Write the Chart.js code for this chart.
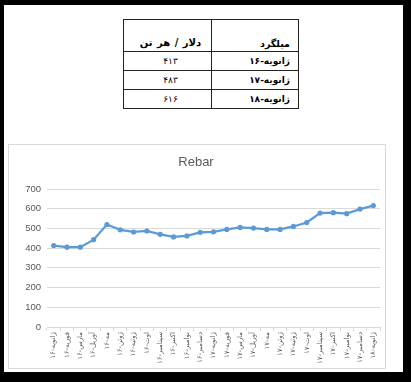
<!DOCTYPE html>
<html>
<head>
<meta charset="utf-8">
<script src="https://cdn.jsdelivr.net/npm/chart.js@4.4.1/dist/chart.umd.min.js"></script>
<style>
  html, body { margin: 0; padding: 0; background: #000; }
  body { width: 411px; height: 382px; position: relative; overflow: hidden; }
  #page { position: absolute; left: 4px; top: 5px; width: 399px; height: 367px; background: #fff; }
  #tbl { position: absolute; left: 119px; top: 14px; border-collapse: collapse; direction: rtl;
         font-family: "DejaVu Sans", sans-serif; color: #000; table-layout: fixed; width: 175px; }
  #tbl td { border: 1px solid #222; padding: 0; width: 87px; box-sizing: border-box; line-height: 1; }
  #tbl tr.h td { height: 32px; vertical-align: bottom; font-weight: bold; font-size: 9.5px; padding-bottom: 3px; }
  #tbl tr.d td { height: 19px; vertical-align: middle; font-size: 9px; }
  #tbl td.c1 { text-align: right; padding-right: 8px; }
  #tbl td.c2 { text-align: center; padding-left: 6px; }
  #tbl tr.h td.c2 { font-size: 10px; word-spacing: 1px; }
  #tbl tr.d td.c1 { font-weight: bold; }
  #frame { position: absolute; left: 4px; top: 139px; width: 376px; height: 223px; border: 1px solid #d9d9d9; background: #fff; }
  #wrap { position: absolute; left: 0; top: 0; width: 375px; height: 222px; }
</style>
</head>
<body>
<div id="page">
  <table id="tbl"><colgroup><col style="width:87px"><col style="width:88px"></colgroup><tbody id="tb"></tbody></table>
  <div id="frame"><div id="wrap"><canvas id="c"></canvas></div></div>
</div>
<script>
// ---- data ----
const tableHeaders = ['میلگرد', 'دلار / هر تن'];
const tableMonths = ['ژانویه-۱۶', 'ژانویه-۱۷', 'ژانویه-۱۸'];
const tablePrices = ['۴۱۳', '۴۸۳', '۶۱۶'];

const categories = [
  'ژانویه-۱۶','فوریه-۱۶','مارس-۱۶','آوریل-۱۶','مه-۱۶','ژوئن-۱۶','ژوئیه-۱۶','اوت-۱۶',
  'سپتامبر-۱۶','اکتبر-۱۶','نوامبر-۱۶','دسامبر-۱۶',
  'ژانویه-۱۷','فوریه-۱۷','مارس-۱۷','آوریل-۱۷','مه-۱۷','ژوئن-۱۷','ژوئیه-۱۷','اوت-۱۷',
  'سپتامبر-۱۷','اکتبر-۱۷','نوامبر-۱۷','دسامبر-۱۷','ژانویه-۱۸'
];
const rebarPrices = [413, 405, 405, 443, 520, 493, 482, 487, 470, 457, 462, 480,
                     483, 495, 505, 502, 495, 495, 510, 530, 578, 580, 575, 598, 616];
const chartTitle = 'Rebar';
const yMin = 0, yMax = 700, yStep = 100;

// ---- table ----
const tb = document.getElementById('tb');
let html = '<tr class="h"><td class="c1">' + tableHeaders[0] + '</td><td class="c2">' + tableHeaders[1] + '</td></tr>';
for (let i = 0; i < tableMonths.length; i++) {
  html += '<tr class="d"><td class="c1">' + tableMonths[i] + '</td><td class="c2">' + tablePrices[i] + '</td></tr>';
}
tb.innerHTML = html;

// ---- chart ----
const grey = '#595959';
new Chart(document.getElementById('c'), {
  type: 'line',
  data: {
    labels: categories,
    datasets: [{
      label: chartTitle,
      data: rebarPrices,
      borderColor: '#5b9bd5',
      backgroundColor: '#5b9bd5',
      borderWidth: 2.25,
      pointRadius: 2.6,
      pointBorderWidth: 0,
      pointBackgroundColor: '#5b9bd5',
      tension: 0
    }]
  },
  options: {
    responsive: true,
    maintainAspectRatio: false,
    animation: false,
    devicePixelRatio: 1,
    layout: { padding: { left: 0, right: 1, top: 0, bottom: 0 } },
    plugins: {
      legend: { display: false },
      tooltip: { enabled: false },
      title: {
        display: true,
        text: chartTitle,
        color: grey,
        font: { family: '"Liberation Sans", Arial, sans-serif', size: 13, weight: 'normal' },
        padding: { top: 10, bottom: 18.4 }
      }
    },
    scales: {
      x: {
        type: 'category',
        offset: true,
        grid: { display: true, offset: true, drawOnChartArea: false, drawTicks: true, tickLength: 4, color: '#d9d9d9' },
        border: { display: true, color: '#d9d9d9' },
        ticks: {
          autoSkip: false, minRotation: 90, maxRotation: 90, padding: 1,
          color: grey,
          font: { family: '"DejaVu Sans", sans-serif', size: 7 }
        },
        afterFit: (s) => { s.height = 40; }
      },
      y: {
        min: yMin, max: yMax,
        grid: { color: '#d9d9d9', drawTicks: false },
        border: { display: false },
        ticks: {
          stepSize: yStep, padding: 6, color: grey,
          font: { family: '"Liberation Sans", Arial, sans-serif', size: 9.5 }
        },
        afterFit: (s) => { s.width = 38; }
      }
    }
  }
});
</script>
</body>
</html>
